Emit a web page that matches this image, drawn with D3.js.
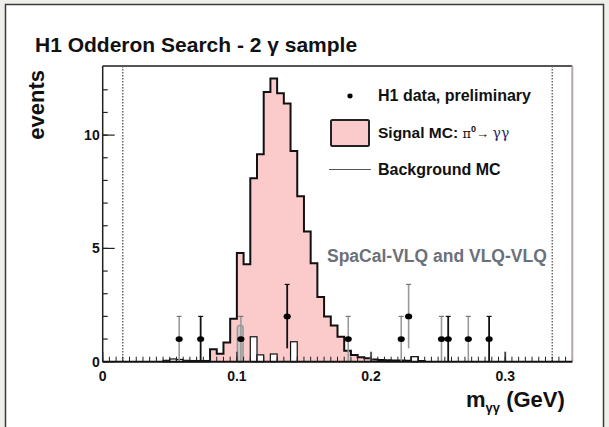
<!DOCTYPE html>
<html><head><meta charset="utf-8">
<script src="https://cdn.jsdelivr.net/npm/d3@7"></script>
<style>
html,body{margin:0;padding:0;background:#eeeeea;}
svg{display:block;font-family:"Liberation Sans",Arial,sans-serif;}
</style></head>
<body>
<script>
// ---- data ----
const binWidth = 0.005;
// signal MC (stack outline), bins starting at signalStart
const signalStart = 0.080;
const signalValues = [0.55,0.35,0.85,1.9,4.8,4.3,8.1,9.15,11.9,12.5,11.85,11.4,9.3,7.3,5.75,4.35,2.85,2.0,1.6,1.1,0.48,0.3,0.2,0.15,0.1,0.08,0.06,0.05,0.05,0.04,0.2,0.03];
// background MC bins (low edge, value)
const bgLow   = [0.045,0.050,0.055,0.060,0.065,0.070,0.075,0.110,0.115,0.125,0.140,0.230];
const bgValue = [0.06,0.12,0.10,0.06,0.05,0.05,0.05,1.1,0.3,0.34,0.88,0.22];
// bins shown in grey
const bgGreyLow = [0.100];
const bgGreyValue = [1.6];
const greyMarkX = [0.200,0.300];
const greyMarkValue = [0.44,0.44];
// H1 data
const dataX   = [0.057,0.073,0.103,0.1375,0.183,0.2225,0.228,0.2525,0.2575,0.2725,0.288];
const dataY   = [1,1,1,2,1,1,2,1,1,1,1];
const dataErr = [1,1,1,1.41,1,1,1.41,1,1,1,1];
const dataGrey= [true,false,true,false,true,true,true,true,false,true,false];
const cutLines = [0.015,0.335];
const xTicks = [0,0.1,0.2,0.3];
const yTicks = [0,5,10];

// ---- layout ----
const W=609,H=427;
const L=102.7,R=572.3,T=66,B=361.7;
const svg=d3.select("body").append("svg").attr("width",W).attr("height",H);
svg.append("rect").attr("x",5.5).attr("y",4.5).attr("width",598).attr("height",440)
  .attr("fill","#fff").attr("stroke","#3a3a3a").attr("stroke-width",1.5);

const x=d3.scaleLinear().domain([0,0.35]).range([L,R]);
const y=d3.scaleLinear().domain([0,13.05]).range([B,T]);

// signal histogram (filled pink)
const sigBins=signalValues.map((v,i)=>({x0:signalStart+i*binWidth,v}));
const pts=[];
sigBins.forEach(b=>{pts.push([b.x0,b.v]);pts.push([b.x0+binWidth,b.v]);});
const area=d3.area().x(d=>x(d[0])).y0(y(0)).y1(d=>y(d[1]));
const line=d3.line().x(d=>x(d[0])).y(d=>y(d[1]));
svg.append("path").datum(pts).attr("d",area).attr("fill","#fbcaca");
svg.append("path").datum([[signalStart,0]].concat(pts).concat([[signalStart+signalValues.length*binWidth,0]]))
  .attr("d",line).attr("fill","none").attr("stroke","#111").attr("stroke-width",2).attr("stroke-linejoin","miter");

// background MC
svg.selectAll(".bg").data(bgLow.map((l,i)=>({l,v:bgValue[i]}))).enter().append("rect")
  .attr("x",d=>x(d.l)).attr("width",d=>x(d.l+binWidth)-x(d.l))
  .attr("y",d=>y(d.v)).attr("height",d=>y(0)-y(d.v))
  .attr("fill","#fff").attr("stroke","#111").attr("stroke-width",1.2);
svg.selectAll(".bgg").data(bgGreyLow.map((l,i)=>({l,v:bgGreyValue[i]}))).enter().append("rect")
  .attr("x",d=>x(d.l)+0.5).attr("width",d=>x(d.l+binWidth)-x(d.l)-1)
  .attr("y",d=>y(d.v)).attr("height",d=>y(0)-y(d.v)).attr("rx",2)
  .attr("fill","#c8c8c8").attr("stroke","#999").attr("stroke-width",1.5);
svg.selectAll(".gm").data(greyMarkX.map((m,i)=>({m,v:greyMarkValue[i]}))).enter().append("rect")
  .attr("x",d=>x(d.m)-1.2).attr("width",2.4).attr("y",d=>y(d.v)).attr("height",d=>y(0)-y(d.v))
  .attr("fill","#bbb");

// cut lines
svg.selectAll(".cut").data(cutLines).enter().append("line")
  .attr("x1",d=>x(d)).attr("x2",d=>x(d)).attr("y1",T).attr("y2",B)
  .attr("stroke","#222").attr("stroke-width",1).attr("stroke-dasharray","1.5,1.5");

// data points
const dp=svg.selectAll(".dp").data(dataX.map((v,i)=>({x:v,y:dataY[i],e:dataErr[i],g:dataGrey[i]}))).enter().append("g");
dp.append("line").attr("x1",d=>x(d.x)).attr("x2",d=>x(d.x))
  .attr("y1",d=>y(Math.max(0,d.y-d.e))).attr("y2",d=>y(d.y+d.e))
  .attr("stroke",d=>d.g?"#9a9a9a":"#111").attr("stroke-width",d=>d.g?1.6:1.8);
dp.append("line").attr("x1",d=>x(d.x)-2.5).attr("x2",d=>x(d.x)+2.5)
  .attr("y1",d=>y(d.y+d.e)).attr("y2",d=>y(d.y+d.e))
  .attr("stroke",d=>d.g?"#777":"#111").attr("stroke-width",1.2);
dp.append("ellipse").attr("cx",d=>x(d.x)).attr("cy",d=>y(d.y)).attr("rx",3.6).attr("ry",2.9).attr("fill","#000");

// axes
const xMinor=d3.range(0,0.3501,binWidth);
svg.selectAll(".xm").data(xMinor).enter().append("line")
  .attr("x1",d=>x(d)).attr("x2",d=>x(d)).attr("y1",B).attr("y2",B-5).attr("stroke","#222").attr("stroke-width",1);
svg.selectAll(".xM").data(xTicks).enter().append("line")
  .attr("x1",d=>x(d)).attr("x2",d=>x(d)).attr("y1",B).attr("y2",B-10).attr("stroke","#222").attr("stroke-width",1.2);
const yMinor=d3.range(0,13,1);
svg.selectAll(".ym").data(yMinor).enter().append("line")
  .attr("x1",L).attr("x2",L+5).attr("y1",d=>y(d)).attr("y2",d=>y(d)).attr("stroke","#222").attr("stroke-width",1.2);
svg.selectAll(".yM").data(yTicks).enter().append("line")
  .attr("x1",L).attr("x2",L+12).attr("y1",d=>y(d)).attr("y2",d=>y(d)).attr("stroke","#222").attr("stroke-width",1.2);

svg.append("line").attr("x1",L).attr("x2",R).attr("y1",T).attr("y2",T).attr("stroke","#555").attr("stroke-width",2);
svg.append("line").attr("x1",R).attr("x2",R).attr("y1",T).attr("y2",B).attr("stroke","#b9a7a7").attr("stroke-width",2);
svg.append("line").attr("x1",L).attr("x2",L).attr("y1",T).attr("y2",B).attr("stroke","#222").attr("stroke-width",1.5);
svg.append("line").attr("x1",L).attr("x2",R).attr("y1",B).attr("y2",B).attr("stroke","#111").attr("stroke-width",2);

svg.selectAll(".xl").data(xTicks).enter().append("text")
  .attr("x",d=>x(d)).attr("y",B+19).attr("text-anchor","middle")
  .attr("font-size",14).attr("font-weight","bold").attr("fill","#111").text(d=>d===0?"0":d3.format(".1f")(d));
svg.selectAll(".yl").data(yTicks).enter().append("text")
  .attr("x",L-3).attr("y",d=>y(d)+5).attr("text-anchor","end")
  .attr("font-size",14).attr("font-weight","bold").attr("fill","#111").text(d=>d);

// titles
svg.append("text").attr("x",35).attr("y",52).attr("font-size",21).attr("font-weight","bold").attr("fill","#111")
  .text("H1 Odderon Search - 2 γ sample");
svg.append("text").attr("transform","translate(44,70) rotate(-90)").attr("text-anchor","end")
  .attr("font-size",22).attr("font-weight","bold").attr("fill","#111").text("events");
const xl=svg.append("text").attr("x",466).attr("y",407).attr("font-size",22).attr("font-weight","bold").attr("fill","#111");
xl.append("tspan").text("m");
xl.append("tspan").attr("font-size",13).attr("dy",5).text("γγ");
xl.append("tspan").attr("dy",-5).text(" (GeV)");

// legend
svg.append("ellipse").attr("cx",350).attr("cy",96).attr("rx",2.6).attr("ry",2.4).attr("fill","#000");
svg.append("text").attr("x",378).attr("y",101).attr("font-size",16).attr("font-weight","bold").attr("fill","#111").text("H1 data, preliminary");
svg.append("rect").attr("x",331).attr("y",120).attr("width",38).attr("height",26).attr("rx",1.5)
  .attr("fill","#fbcaca").attr("stroke","#222").attr("stroke-width",2);
const st=svg.append("text").attr("x",378).attr("y",138).attr("font-size",15.5).attr("font-weight","bold").attr("fill","#111");
st.append("tspan").text("Signal MC: ");
st.append("tspan").attr("font-size",13).attr("font-family","'DejaVu Serif',serif").attr("font-weight","normal").text("π");
st.append("tspan").attr("font-size",9).attr("dy",-6).attr("font-weight","bold").text("0");
st.append("tspan").attr("font-size",13).attr("dy",6).attr("font-weight","bold").text("→ ");
st.append("tspan").attr("font-size",14).attr("font-family","'DejaVu Serif',serif").attr("font-weight","normal").attr("fill","#2a2a6a").text("γγ");
svg.append("line").attr("x1",329).attr("x2",371).attr("y1",169.5).attr("y2",169.5).attr("stroke","#555").attr("stroke-width",1);
svg.append("text").attr("x",378).attr("y",175).attr("font-size",16).attr("font-weight","bold").attr("fill","#111").text("Background MC");

svg.append("text").attr("x",327).attr("y",262).attr("font-size",17.5).attr("font-weight","bold").attr("fill","#6b7079").text("SpaCal-VLQ and VLQ-VLQ");
</script>
</body></html>
